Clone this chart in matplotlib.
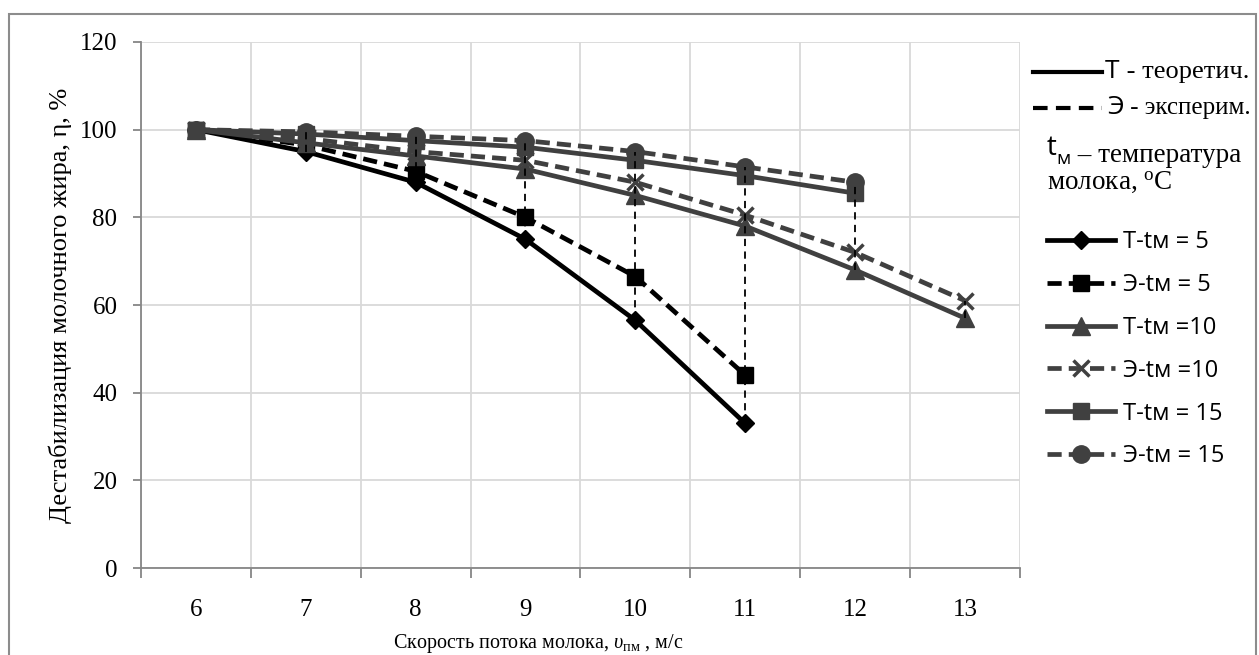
import matplotlib
matplotlib.use("Agg")
import matplotlib.pyplot as plt
from matplotlib.lines import Line2D
from matplotlib.patches import Rectangle
from matplotlib.ticker import FixedLocator

# flow speed categories, m/s
speeds = [6, 7, 8, 9, 10, 11, 12, 13]
tick_labels = ["6", "7", "8", "9", "10", "11", "12", "13"]

# destabilisation of milk fat, %
t_5 = [100, 95, 88, 75, 56.5, 33]
e_5 = [100, 96.5, 90.5, 80, 66.5, 44]
t_10 = [100, 97, 94, 91, 85, 78, 68, 57]
e_10 = [100, 98, 95, 93, 88, 80.5, 72, 61]
t_15 = [100, 99, 97.5, 96, 93, 89.5, 85.5]
e_15 = [100, 99.5, 98.5, 97.5, 95, 91.5, 88]

labels = ["Т-tм = 5", "Э-tм = 5", "Т-tм =10", "Э-tм =10", "Т-tм = 15", "Э-tм = 15"]

plt.rcParams["mathtext.fontset"] = "custom"
plt.rcParams["mathtext.rm"] = "Liberation Serif"
plt.rcParams["mathtext.it"] = "Liberation Serif:italic"

SERIF = "Liberation Serif"
SANS = "Open Sans"
DARK = "#404040"
GRID = "#d9d9d9"
SPINE = "#868686"

fig = plt.figure(figsize=(12.59, 6.55), dpi=100)
ax = fig.add_axes([0.112, 0.1328, 0.698, 0.8031])

dash = (3, 1.5)
series = [
    (t_5, "black", "-", "D", 9),
    (e_5, "black", "--", "s", 11.5),
    (t_10, DARK, "-", "^", 12.5),
    (e_10, DARK, "--", "x", 12),
    (t_15, DARK, "-", "s", 11.5),
    (e_15, DARK, "--", "o", 12.5),
]
handles = []
for (vals, color, ls, mk, ms), lab in zip(series, labels):
    line, = ax.plot(speeds[:len(vals)], vals, color=color, lw=3.4, marker=mk,
                    ms=ms, mfc=color, mec=color, mew=2.5 if mk == "x" else 1,
                    label=lab, zorder=3)
    if ls == "--":
        line.set_dashes(dash)
    handles.append(line)

# high-low lines between the max and min of every category
all_vals = [s[0] for s in series]
for i, x in enumerate(speeds):
    col = [v[i] for v in all_vals if i < len(v)]
    if max(col) > min(col):
        ax.vlines(x, min(col), max(col), colors="black", lw=1.3,
                  linestyles=(0, (4, 3)), zorder=5)

ax.set_xlim(5.5, 13.5)
ax.set_ylim(0, 120)
ax.set_xticks(speeds)
ax.set_xticklabels(tick_labels, fontsize=18, fontfamily=SERIF)
ax.xaxis.set_minor_locator(FixedLocator([s + 0.5 for s in [5] + speeds]))
ax.set_yticks(range(0, 121, 20))
ax.set_yticklabels([str(v) for v in range(0, 121, 20)], fontsize=18, fontfamily=SERIF)
ax.tick_params(axis="x", which="major", length=0, pad=22)
ax.tick_params(axis="x", which="minor", length=7, width=1.3, color=SPINE, direction="out")
ax.tick_params(axis="y", length=6, width=1.3, color=SPINE, pad=11)
ax.grid(True, axis="y", color=GRID, lw=1.3, zorder=0)
ax.grid(True, axis="x", which="minor", color=GRID, lw=1.3, zorder=0)
ax.set_axisbelow(True)
for side in ["top", "right"]:
    ax.spines[side].set_visible(False)
for side in ["left", "bottom"]:
    ax.spines[side].set_color(SPINE)
    ax.spines[side].set_linewidth(1.3)

ax.set_ylabel("Дестабилизация молочного жира, η, %", fontsize=19,
              fontfamily=SERIF, labelpad=6)
ax.set_xlabel(r"Скорость потока молока, $\mathit{\upsilon}_{\mathrm{пм}}$ , м/с",
              fontsize=14.5, fontfamily=SERIF)
ax.xaxis.set_label_coords(0.452, -0.122)

fig.legend(handles=handles, loc="upper left", bbox_to_anchor=(1047 / 1259, 1 - 230 / 655),
           frameon=False, borderpad=0, borderaxespad=0, handlelength=2.9,
           handletextpad=0.3, labelspacing=0.8, numpoints=1,
           prop={"family": SANS, "size": 17})

# legend header: line types and note about t_м
def to_fig(px, py):
    return px / 1259, 1 - py / 655

for py, ls in [(72, "-"), (108, (0, (3.5, 2)))]:
    (x0, y0), (x1, _) = to_fig(1033, py), to_fig(1102, py)
    fig.add_artist(Line2D([x0, x1], [y0, y0], color="black", lw=3, ls=ls))

tx, ty = to_fig(1105, 72)
t1 = fig.text(tx, ty, "Т", fontsize=19, fontfamily=SANS, va="center")
ax.annotate(" - теоретич.", xy=(1, 0.5), xycoords=t1, va="center",
            fontsize=19, fontfamily=SERIF, annotation_clip=False)
tx, ty = to_fig(1107, 108)
t2 = fig.text(tx, ty, "Э", fontsize=19, fontfamily=SANS, va="center")
ax.annotate(" - эксперим.", xy=(1, 0.5), xycoords=t2, va="center",
            fontsize=18, fontfamily=SERIF, annotation_clip=False)
tx, ty = to_fig(1047, 148)
t3 = fig.text(tx, ty, "t", fontsize=20, fontfamily=SANS, va="center")
t4 = ax.annotate("м", xy=(1, 0.1), xycoords=t3, va="center",
                 fontsize=14, fontfamily=SANS, annotation_clip=False)
ax.annotate(" – температура", xy=(1, 0.5), xycoords=t4, xytext=(0, 3),
            textcoords="offset points", va="center",
            fontsize=19.5, fontfamily=SERIF, annotation_clip=False)
tx, ty = to_fig(1047, 182)
fig.text(tx, ty, r"молока, $^{\mathrm{o}}$C", fontsize=19.5, fontfamily=SERIF, va="center")

# outer chart border
fig.add_artist(Rectangle((9 / 1259, -0.1), 1247 / 1259, 1.1 - 14 / 655,
                         transform=fig.transFigure, fill=False, ec="#8c8c8c", lw=1.5))

fig.savefig("out.png", dpi=100)
